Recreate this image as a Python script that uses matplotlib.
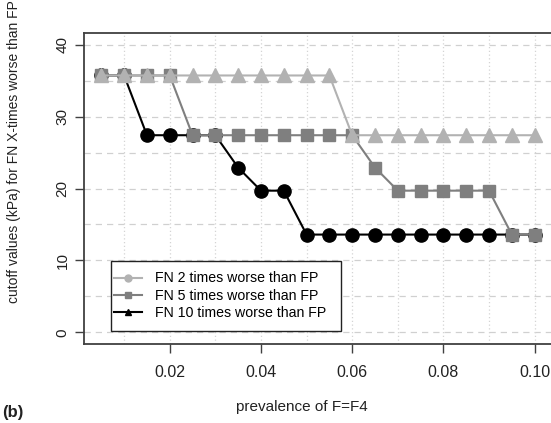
import matplotlib
matplotlib.use("Agg")
import matplotlib.pyplot as plt
from matplotlib.lines import Line2D
from matplotlib.patches import Rectangle
import numpy as np

plt.rcParams['font.family'] = ['Liberation Sans', 'DejaVu Sans']

prevalence = [0.005, 0.010, 0.015, 0.020, 0.025, 0.030, 0.035, 0.040, 0.045, 0.050,
              0.055, 0.060, 0.065, 0.070, 0.075, 0.080, 0.085, 0.090, 0.095, 0.100]
fn2 = [35.7, 35.7, 35.7, 35.7, 35.7, 35.7, 35.7, 35.7, 35.7, 35.7,
       35.7, 27.4, 27.4, 27.4, 27.4, 27.4, 27.4, 27.4, 27.4, 27.4]
fn5 = [35.7, 35.7, 35.7, 35.7, 27.4, 27.4, 27.4, 27.4, 27.4, 27.4,
       27.4, 27.4, 22.9, 19.7, 19.7, 19.7, 19.7, 19.7, 13.6, 13.6]
fn10 = [35.7, 35.7, 27.4, 27.4, 27.4, 27.4, 22.9, 19.7, 19.7, 13.6,
        13.6, 13.6, 13.6, 13.6, 13.6, 13.6, 13.6, 13.6, 13.6, 13.6]
legend_labels = ["FN 2 times worse than FP", "FN 5 times worse than FP", "FN 10 times worse than FP"]
xticks = [0.02, 0.04, 0.06, 0.08, 0.10]
xticklabels = ["0.02", "0.04", "0.06", "0.08", "0.10"]
yticks = [0, 10, 20, 30, 40]

W, H = 551, 423
fig = plt.figure(figsize=(W/100, H/100), dpi=100)
ax = fig.add_axes([84/W, 1-344/H, (552-84)/W, (344-33)/H])

c2, c5, c10 = '#b2b2b2', '#7f7f7f', '#000000'

# grid
for yv in np.arange(0, 41, 5):
    ax.axhline(yv, color='#d0d0d0', lw=0.9, ls=(0, (5, 4)), zorder=0)
for xv in np.arange(0.01, 0.101, 0.01):
    ax.axvline(xv, color='#d4d4d4', lw=0.9, ls=(0, (1, 2)), zorder=0)

ax.plot(prevalence, fn10, color=c10, lw=1.5, marker='o', ms=9.5, zorder=3)
ax.plot(prevalence, fn5, color=c5, lw=1.5, marker='s', ms=8.5, zorder=4)
ax.plot(prevalence, fn2, color=c2, lw=1.5, marker='^', ms=10, zorder=5)

ax.set_xlim(0.0012, 0.1038)
ax.set_ylim(-1.6, 41.6)
ax.set_xticks(xticks)
ax.set_xticklabels(xticklabels, fontsize=11.5)
ax.set_yticks(yticks)
ax.set_yticklabels([str(v) for v in yticks], fontsize=11, rotation=90, va='center')
ax.tick_params(axis='both', length=6.5, width=1.0, color='#404040', labelcolor='#222222')
ax.tick_params(axis='x', pad=8.5)
ax.tick_params(axis='y', pad=4)
for s in ax.spines.values():
    s.set_color('#404040')
    s.set_linewidth(1.3)

# legend frame (drawn separately so the padding can differ horizontally/vertically)
frame = Rectangle((110.5/W, 1-331/H), (341-110.5)/W, (331-261)/H,
                  transform=fig.transFigure, facecolor='white', edgecolor='#222222',
                  lw=1.0, zorder=9, clip_on=False)
ax.add_patch(frame)

handles = [Line2D([], [], color=c2, lw=1.5, marker='o', ms=5),
           Line2D([], [], color=c5, lw=1.5, marker='s', ms=4.5),
           Line2D([], [], color=c10, lw=1.5, marker='^', ms=5)]
leg = ax.legend(handles, legend_labels, loc='upper left',
                bbox_to_anchor=(114/W, 1-271.5/H), bbox_transform=fig.transFigure,
                borderaxespad=0, frameon=False,
                fontsize=10.2, handlelength=1.95, handletextpad=0.95, labelspacing=0.24,
                borderpad=0)
leg.set_zorder(10)

fig.text(14/W, 1-152/H, "cutoff values (kPa) for FN X-times worse than FP",
         rotation=90, ha='center', va='center', fontsize=10, color='#222222')
fig.text(302/W, 1-407/H, "prevalence of F=F4", ha='center', va='center',
         fontsize=11, color='#222222')
fig.text(2/W, 1-405/H, "(b)", ha='left', va='top', fontsize=12, fontweight='bold',
         color='#222222')

fig.savefig("out.png", dpi=100)
